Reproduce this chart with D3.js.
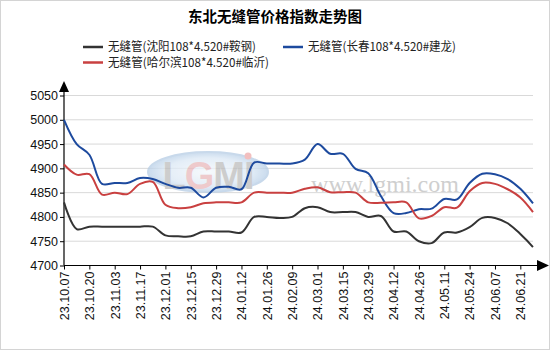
<!DOCTYPE html>
<html>
<head>
<meta charset="utf-8">
<script src="https://cdn.jsdelivr.net/npm/d3@7"></script>
<style>
  html, body { margin: 0; padding: 0; background: #fff; }
  svg { display: block; font-family: "Liberation Sans", Arial, sans-serif; }
</style>
</head>
<body>
<svg id="chart" width="550" height="350"></svg>
<script>
// Tick labels along the date axis (one every 10 trading days)
const dateLabels = ["23.10.07","23.10.20","23.11.03","23.11.17","23.12.01","23.12.15","23.12.29",
  "24.01.12","24.01.26","24.02.09","24.03.01","24.03.15","24.03.29","24.04.12","24.04.26",
  "24.05.11","24.05.24","24.06.07","24.06.21"];
// Values sampled every 5 trading days, starting at 23.10.07
const sampleStep = 5;
const shenyang = [4830,4775,4780,4780,4780,4780,4780,4780,4762,4760,4760,4770,4770,4770,4768,4800,
  4800,4798,4800,4818,4820,4810,4810,4810,4800,4802,4770,4770,4750,4746,4768,4768,4779,4798,4798,4787,4765,4738];
const changchun = [5000,4950,4928,4868,4870,4870,4880,4878,4868,4860,4860,4840,4860,4862,4857,4912,
  4910,4910,4910,4918,4950,4930,4930,4899,4890,4843,4808,4808,4816,4817,4837,4836,4870,4889,4888,4878,4858,4828];
const harbin = [4908,4887,4888,4846,4850,4847,4868,4872,4825,4818,4820,4828,4830,4830,4830,4850,
  4850,4850,4850,4858,4861,4851,4851,4850,4830,4829,4830,4830,4797,4802,4820,4819,4853,4870,4868,4857,4840,4810];
const yTicks = [4700,4750,4800,4850,4900,4950,5000,5050];
const seriesNames = ["无缝管(沈阳108*4.520#鞍钢)","无缝管(长春108*4.520#建龙)","无缝管(哈尔滨108*4.520#临沂)"];
const seriesColors = ["#333333","#1d4a9e","#c94040"];

const svg = d3.select("#chart");
const W = 550, H = 350;
const plotLeft = 64, plotRight = 533, plotTop = 95.5, plotBottom = 265.5;

svg.append("rect").attr("x",0.5).attr("y",0.5).attr("width",W-1).attr("height",H-1)
  .attr("fill","#fff").attr("stroke","#d4d4d4");

const lastIdx = (shenyang.length - 1) * sampleStep;
const x = d3.scaleLinear().domain([0, lastIdx]).range([plotLeft, plotRight]);
const y = d3.scaleLinear().domain([4700, 5050]).range([plotBottom, plotTop]);

// title
svg.append("text").attr("x", 275).attr("y", 22).attr("text-anchor","middle")
  .attr("font-size", 14.5).attr("font-weight","bold").attr("fill","#000")
  .style("font-family","'Noto Sans CJK SC', sans-serif")
  .text("东北无缝管价格指数走势图");

// legend
const legendPos = [[83,47],[283,47],[83,62.5]];
const legendWidths = [148, 148, 161];
seriesNames.forEach((name,i) => {
  const [lx,ly] = legendPos[i];
  svg.append("line").attr("x1",lx).attr("x2",lx+20).attr("y1",ly).attr("y2",ly)
    .attr("stroke",seriesColors[i]).attr("stroke-width",2.5);
  svg.append("text").attr("x",lx+25).attr("y",ly+4.3).attr("font-size",12).attr("fill","#222")
    .attr("textLength", legendWidths[i]).attr("lengthAdjust","spacingAndGlyphs")
    .style("font-family","'Noto Sans CJK SC', sans-serif").text(name);
});

// horizontal grid
svg.append("g").selectAll("line").data(yTicks.slice(1)).join("line")
  .attr("x1", plotLeft).attr("x2", plotRight)
  .attr("y1", d => y(d)).attr("y2", d => y(d))
  .attr("stroke","#d9d9d9").attr("stroke-width",1);

// watermark logo
const wm = svg.append("g").attr("opacity",0.75);
const grad = svg.append("defs").append("radialGradient").attr("id","wmGrad");
grad.append("stop").attr("offset","0%").attr("stop-color","#f4f8fc");
grad.append("stop").attr("offset","70%").attr("stop-color","#dbe8f5");
grad.append("stop").attr("offset","100%").attr("stop-color","#b9d0e8");
wm.append("ellipse").attr("cx",208).attr("cy",172).attr("rx",60).attr("ry",20)
  .attr("fill","url(#wmGrad)").attr("stroke","#b6cde5").attr("stroke-width",2);
wm.append("text").attr("x",208).attr("y",189).attr("text-anchor","middle")
  .attr("font-size",38).attr("font-weight","bold").attr("letter-spacing",-1)
  .style("font-family","'Liberation Sans', Arial, sans-serif")
  .call(t => {
    t.append("tspan").attr("fill","#bdbdbd").text("L");
    t.append("tspan").attr("fill","#e9b9bb").text("G");
    t.append("tspan").attr("fill","#bdbdbd").text("MI");
  });
wm.append("circle").attr("cx",248).attr("cy",156).attr("r",3.5).attr("fill","#eeaaaa");
svg.append("text").attr("x",385).attr("y",192).attr("text-anchor","middle")
  .attr("font-size",24).attr("fill","#cfcfcf")
  .style("font-family","'Liberation Serif', 'DejaVu Serif', serif")
  .text("www.lgmi.com");

// y axis
const yAxis = svg.append("g").attr("transform",`translate(${plotLeft},0)`)
  .call(d3.axisLeft(y).tickValues(yTicks).tickSize(4).tickPadding(2).tickFormat(d3.format("d")));
yAxis.select(".domain").remove();
yAxis.selectAll("line").attr("stroke","#000");
yAxis.selectAll("text").attr("font-size",12.5).attr("fill","#111")
  .style("font-family","'Liberation Sans', Arial, sans-serif");
svg.append("line").attr("x1",plotLeft).attr("x2",plotLeft).attr("y1",plotBottom).attr("y2",88)
  .attr("stroke","#000").attr("stroke-width",1.2);
svg.append("path").attr("d",`M${plotLeft},81 L${plotLeft-5},92 L${plotLeft+5},92 Z`).attr("fill","#000");

// x axis
const labelIdx = dateLabels.map((_,i) => i * 10);
const xAxis = svg.append("g").attr("transform",`translate(0,${plotBottom})`)
  .call(d3.axisBottom(x).tickValues(labelIdx).tickSize(4).tickPadding(4)
    .tickFormat((d,i) => dateLabels[i]));
xAxis.select(".domain").remove();
xAxis.selectAll("line").attr("stroke","#000");
xAxis.selectAll("text")
  .attr("font-size",12.5).attr("fill","#111")
  .style("font-family","'Liberation Sans', Arial, sans-serif")
  .attr("text-anchor","end").attr("dy","0.35em")
  .attr("transform","translate(0,6) rotate(-90)")
  .attr("x",0).attr("y",0);
svg.append("line").attr("x1",plotLeft).attr("x2",540).attr("y1",plotBottom).attr("y2",plotBottom)
  .attr("stroke","#000").attr("stroke-width",1.2);
svg.append("path").attr("d",`M549,${plotBottom} L537,${plotBottom-5.5} L537,${plotBottom+5.5} Z`).attr("fill","#000");

// series lines
const line = d3.line()
  .x((d,i) => x(i * sampleStep))
  .y(d => y(d))
  .curve(d3.curveCatmullRom.alpha(0.5));
[shenyang, changchun, harbin].forEach((s,i) => {
  svg.append("path").datum(s).attr("d", line)
    .attr("fill","none").attr("stroke",seriesColors[i]).attr("stroke-width",2)
    .attr("stroke-linejoin","round");
});
</script>
</body>
</html>
